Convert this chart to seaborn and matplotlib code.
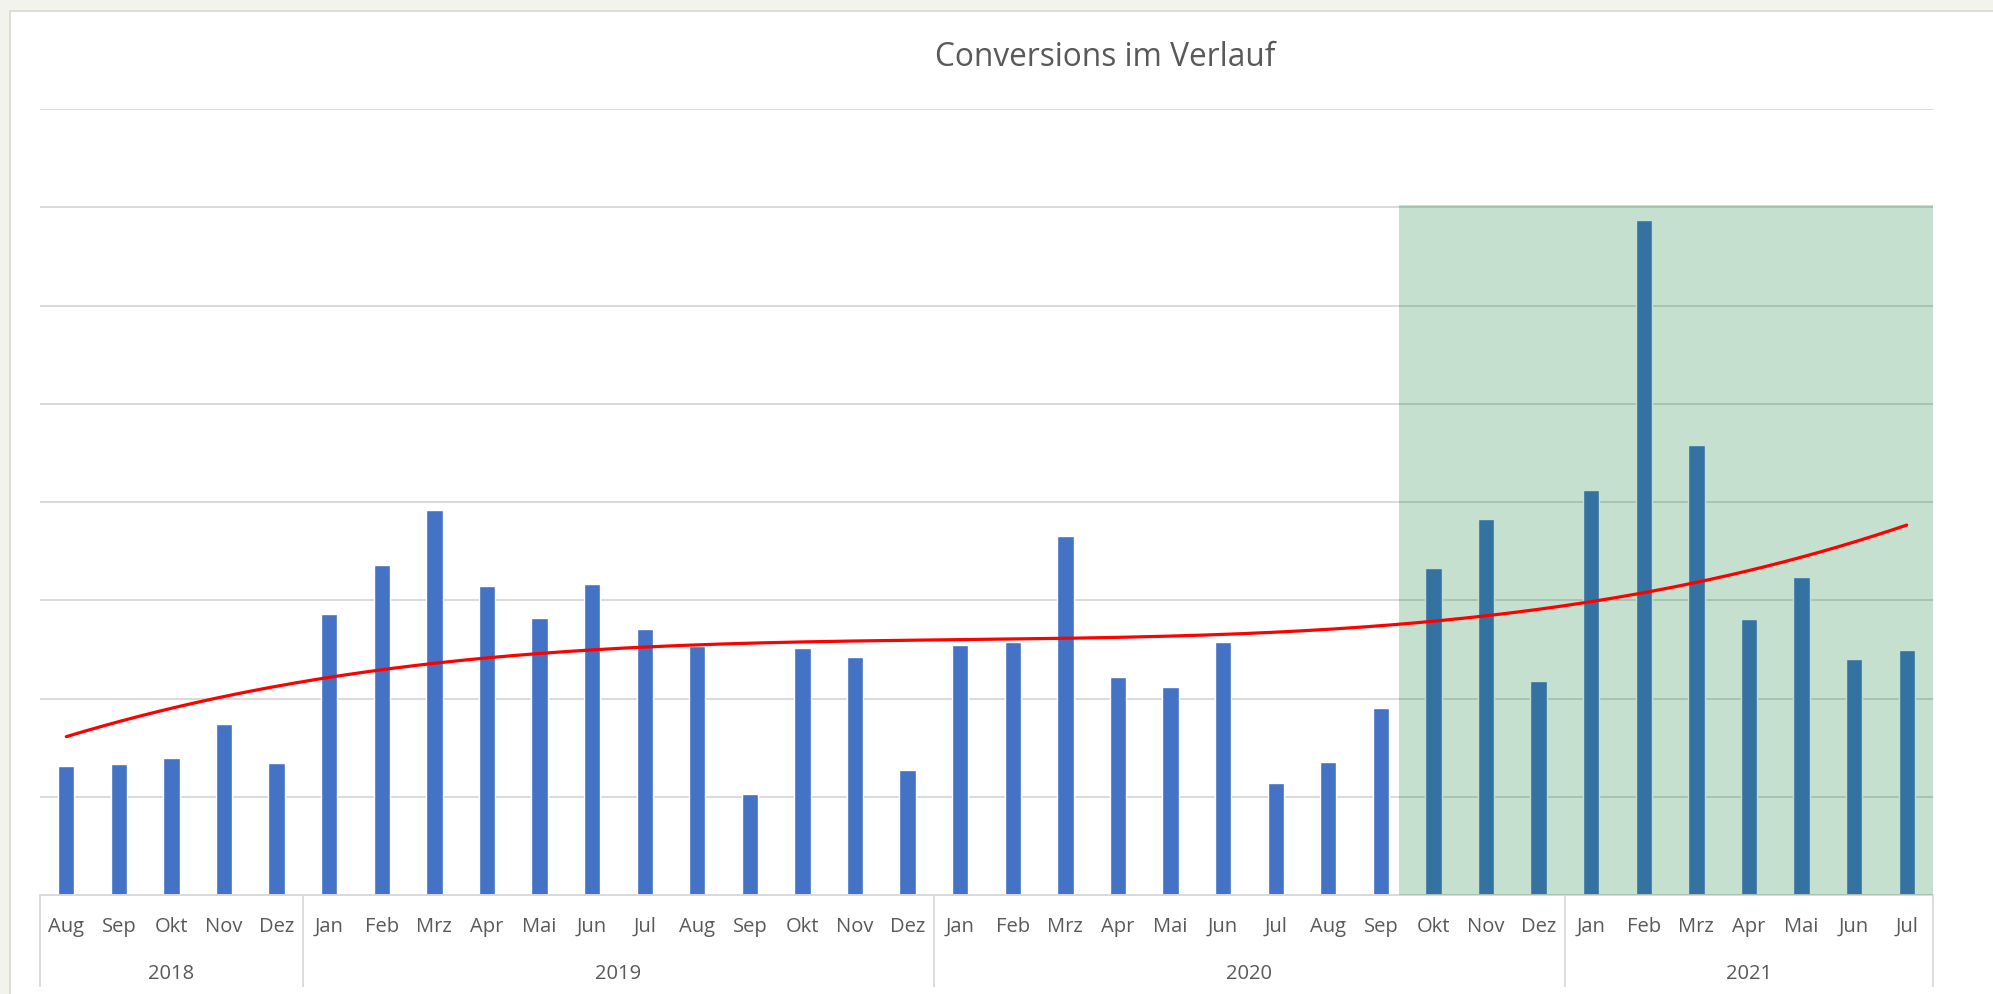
import numpy as np
import pandas as pd
import matplotlib.pyplot as plt
import seaborn as sns
from matplotlib.patches import Rectangle

# ==========================
# Daten (Einheit = Gitterlinienabstand)
# ==========================
months = ['Aug', 'Sep', 'Okt', 'Nov', 'Dez',
          'Jan', 'Feb', 'Mrz', 'Apr', 'Mai', 'Jun', 'Jul', 'Aug', 'Sep', 'Okt', 'Nov', 'Dez',
          'Jan', 'Feb', 'Mrz', 'Apr', 'Mai', 'Jun', 'Jul', 'Aug', 'Sep', 'Okt', 'Nov', 'Dez',
          'Jan', 'Feb', 'Mrz', 'Apr', 'Mai', 'Jun', 'Jul']
years = ['2018', '2019', '2020', '2021']
months_per_year = [5, 12, 12, 7]
conversions = [1.31, 1.33, 1.39, 1.74, 1.34,
               2.86, 3.36, 3.92, 3.14, 2.82, 3.17, 2.71, 2.53, 1.03, 2.51, 2.42, 1.27,
               2.54, 2.57, 3.65, 2.22, 2.12, 2.58, 1.14, 1.35, 1.90, 3.33, 3.83, 2.18,
               4.12, 6.87, 4.58, 2.81, 3.24, 2.40, 2.49]
highlight_start = 26   # Okt 2020
highlight_top = 7.02

W, H = 1993, 995
text_gray = '#595959'
grid_gray = '#D9D9D9'

sns.set_style('white')
plt.rcParams['font.family'] = ['Open Sans', 'DejaVu Sans']

df = pd.DataFrame({'idx': np.arange(len(conversions)), 'value': conversions})

fig = plt.figure(figsize=(W / 100, H / 100), dpi=100)
fig.patch.set_facecolor('#F3F3EE')
# weisse Diagrammflaeche
card = Rectangle((10 / W, -0.05), 1.0, 1 - 12 / H + 0.05,
                 transform=fig.transFigure, facecolor='white',
                 edgecolor='#D8D8D3', lw=1.2, zorder=-10)
fig.patches.append(card)

ax = fig.add_axes([40 / W, 99 / H, 1893 / W, 786 / H])
ax.set_facecolor('none')

sns.barplot(data=df, x='idx', y='value', color='#4472C4', saturation=1,
            width=0.31, ax=ax, zorder=2)

# Trendlinie (Polynom 3. Grades wie in Excel)
xs = np.arange(1, len(conversions) + 1)
coef = np.polyfit(xs, conversions, 3)
xfine = np.linspace(1, len(conversions), 300)
ax.plot(xfine - 1, np.polyval(coef, xfine), color='#FF0000', lw=2.3, zorder=5)

# gruene Markierung
ax.axvspan(highlight_start - 0.65, len(conversions) - 0.5, ymin=0, ymax=highlight_top / 8,
           color=(0, 117 / 255, 46 / 255), alpha=0.225, lw=0, zorder=4)

ax.set_xlim(-0.5, len(conversions) - 0.5)
ax.set_ylim(0, 8)
ax.set_yticks(range(1, 9))
ax.yaxis.grid(True, color=grid_gray, lw=1.4)
ax.set_axisbelow(True)
ax.set_yticklabels([])
ax.set_xticks([])
ax.set_xlabel('')
ax.set_ylabel('')
for s in ax.spines.values():
    s.set_visible(False)
ax.axhline(0, color=grid_gray, lw=1.4, zorder=3, clip_on=False)

# mehrstufige Kategorienachse
trans = ax.get_xaxis_transform()
ax_h = 786
for i, m in enumerate(months):
    ax.text(i, -31 / ax_h, m, ha='center', va='center', fontsize=14.5,
            color=text_gray, transform=trans)
bounds = np.concatenate([[0], np.cumsum(months_per_year)]) - 0.5
for y, a, b in zip(years, bounds[:-1], bounds[1:]):
    ax.text((a + b) / 2, -78 / ax_h, y, ha='center', va='center', fontsize=14.5,
            color=text_gray, transform=trans)
ax.vlines(bounds, -92 / ax_h, 0, transform=trans, color=grid_gray, lw=1.3, clip_on=False)

fig.text(1105 / W, 1 - 57 / H, 'Conversions im Verlauf', ha='center', va='center',
         fontsize=22.8, color=text_gray)

plt.savefig('out.png', dpi=100, facecolor=fig.get_facecolor())
plt.close()
